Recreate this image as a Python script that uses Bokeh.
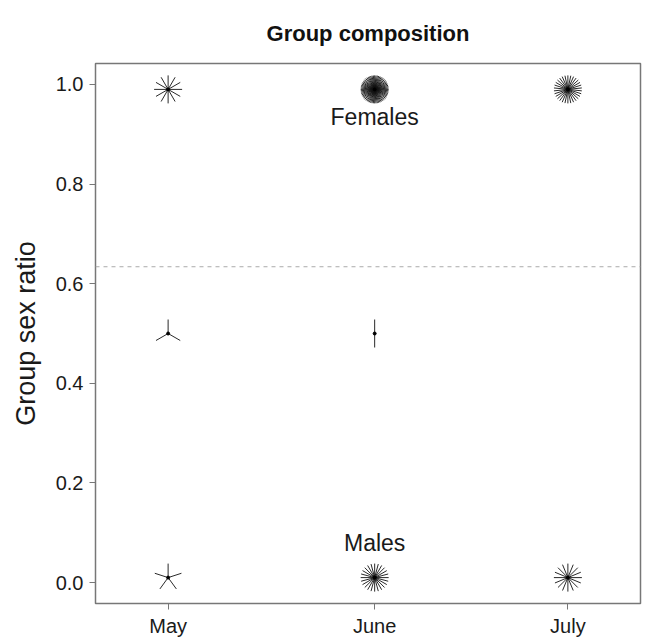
import numpy as np
from bokeh.plotting import figure
from bokeh.models import ColumnDataSource, FixedTicker, Span, Label
from bokeh.embed import file_html
from bokeh.resources import INLINE

# ---- data ----
months = ["May", "June", "July"]
sample_day = [135, 166, 195]          # x position of each month (day of year)
female_ratio = 0.99
mixed_ratio = 0.5
male_ratio = 0.01
female_counts = [12, 64, 30]          # number of groups at ratio ~1
mixed_counts = [3, 2, 0]              # number of groups at ratio 0.5
male_counts = [5, 24, 16]             # number of groups at ratio ~0
y_ticks = [0.0, 0.2, 0.4, 0.6, 0.8, 1.0]
threshold = 0.634
annot_text = ["Females", "Males"]
annot_x = [166, 166]
annot_y = [0.934, 0.08]

# ---- build sunflower petals ----
px, py, pang = [], [], []
cx, cy = [], []
for ratio, counts in [(female_ratio, female_counts),
                      (mixed_ratio, mixed_counts),
                      (male_ratio, male_counts)]:
    for d, n in zip(sample_day, counts):
        if n <= 0:
            continue
        cx.append(d)
        cy.append(ratio)
        if n > 1:
            for k in range(1, n + 1):
                deg = 2 * np.pi * k / n
                px.append(d)
                py.append(ratio)
                pang.append(np.pi / 2 - deg)

petals = ColumnDataSource(dict(x=px, y=py, angle=pang))
centers = ColumnDataSource(dict(x=cx, y=cy))

p = figure(width=650, height=636, output_backend="svg", toolbar_location=None,
           x_range=(124.1, 205.9), y_range=(-0.042, 1.042),
           frame_width=545, frame_height=540,
           min_border_left=95, min_border_right=10, min_border_top=63, min_border_bottom=33,
           title="Group composition")

p.title.align = "center"
p.title.text_font = "Liberation Sans"
p.title.text_font_size = "22px"
p.title.text_font_style = "bold"
p.title.text_color = "#111111"
p.title.standoff = 36
p.title.offset = -6

p.grid.visible = False
p.outline_line_color = "#777777"
p.outline_line_width = 1.5
p.background_fill_color = "white"
p.border_fill_color = "white"

for ax in (p.xaxis[0], p.yaxis[0]):
    ax.axis_line_color = None
    ax.major_tick_line_color = "#777777"
    ax.major_tick_in = 0
    ax.major_tick_out = 6
    ax.minor_tick_line_color = None
    ax.major_label_text_font = "Liberation Sans"
    ax.major_label_text_font_size = "20px"
    ax.major_label_text_color = "#1a1a1a"

p.xaxis.ticker = FixedTicker(ticks=sample_day)
p.xaxis.major_label_overrides = {d: m for d, m in zip(sample_day, months)}
p.xaxis.major_label_standoff = 5

p.yaxis.ticker = FixedTicker(ticks=y_ticks)
p.yaxis.major_label_overrides = {t: f"{t:.1f}" for t in y_ticks}
p.yaxis.major_label_orientation = "horizontal"
p.yaxis.major_label_standoff = 6
p.yaxis.axis_label = "Group sex ratio"
p.yaxis.axis_label_text_font = "Liberation Sans"
p.yaxis.axis_label_text_font_size = "27px"
p.yaxis.axis_label_text_font_style = "normal"
p.yaxis.axis_label_text_color = "#1a1a1a"
p.yaxis.axis_label_standoff = 12

p.add_layout(Span(location=threshold, dimension="width", line_color="#aaaaaa",
                  line_dash="4 4", line_width=1))

p.ray(x="x", y="y", length=14, length_units="screen", angle="angle",
      angle_units="rad", source=petals, line_color="#111111", line_width=0.9)
p.scatter(x="x", y="y", source=centers, size=3, color="black")

for t, xx, yy in zip(annot_text, annot_x, annot_y):
    p.add_layout(Label(x=xx, y=yy, text=t, text_align="center", text_baseline="middle",
                       text_font="Liberation Sans", text_font_size="23px",
                       text_color="#1a1a1a"))

open("out.html", "w").write(file_html(p, INLINE))
